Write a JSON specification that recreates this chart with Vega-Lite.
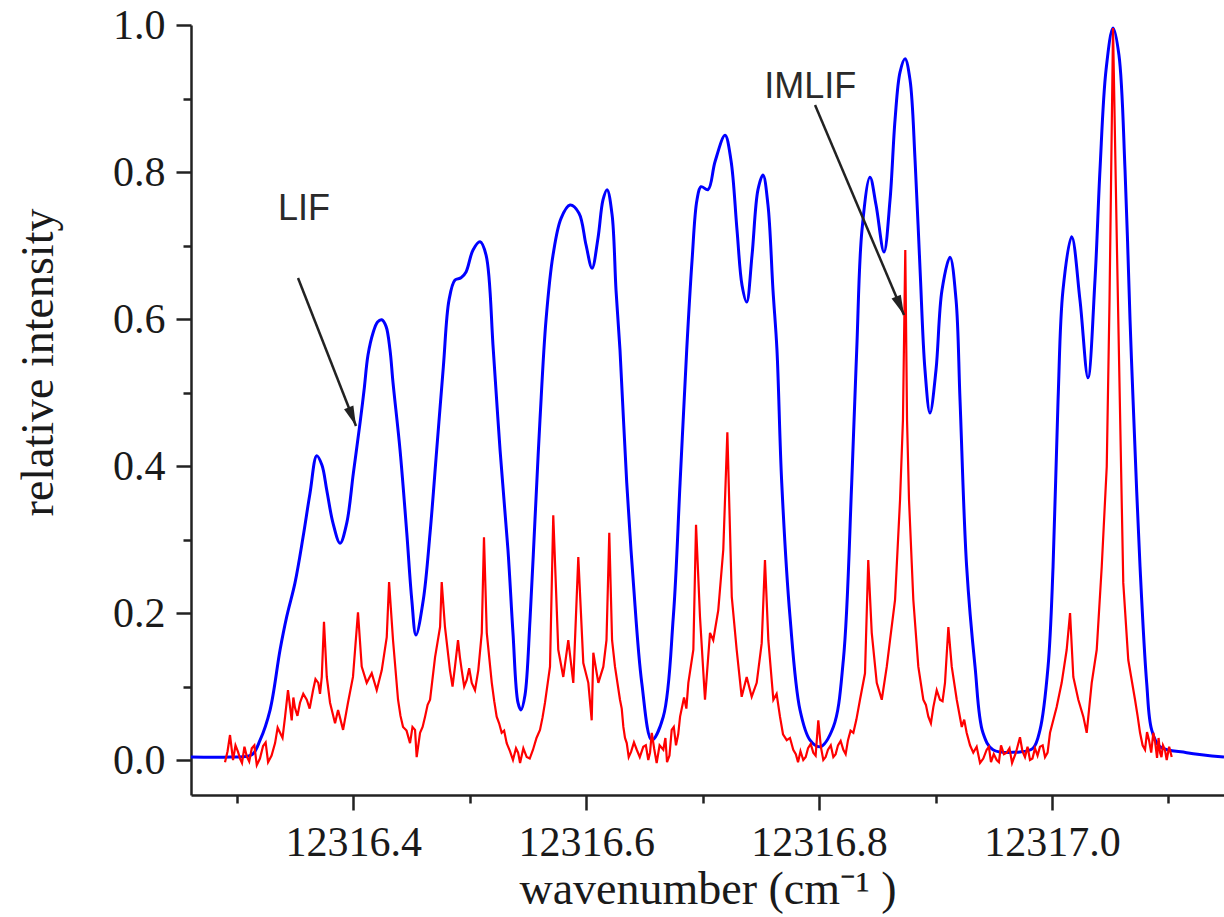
{
  "$schema": "https://vega.github.io/schema/vega-lite/v6.json",
  "width": 1033,
  "height": 770,
  "autosize": {"type": "none"},
  "padding": {"left": 191, "top": 25, "right": 0, "bottom": 122},
  "background": "white",
  "config": {"view": {"stroke": null}},
  "datasets": {
    "lif": [
      {"x": 12316.2606, "y": 0.004}, {"x": 12316.2941, "y": 0.004}, {"x": 12316.3128, "y": 0.007}, {"x": 12316.3199, "y": 0.027},
      {"x": 12316.3285, "y": 0.068}, {"x": 12316.3371, "y": 0.150}, {"x": 12316.3428, "y": 0.195}, {"x": 12316.3499, "y": 0.241},
      {"x": 12316.3568, "y": 0.303}, {"x": 12316.3628, "y": 0.363}, {"x": 12316.3686, "y": 0.414}, {"x": 12316.3731, "y": 0.401},
      {"x": 12316.3772, "y": 0.367}, {"x": 12316.3826, "y": 0.322}, {"x": 12316.3886, "y": 0.295}, {"x": 12316.3943, "y": 0.322},
      {"x": 12316.4000, "y": 0.390}, {"x": 12316.4058, "y": 0.459}, {"x": 12316.4092, "y": 0.503}, {"x": 12316.4126, "y": 0.551},
      {"x": 12316.4169, "y": 0.581}, {"x": 12316.4208, "y": 0.596}, {"x": 12316.4244, "y": 0.599}, {"x": 12316.4281, "y": 0.590},
      {"x": 12316.4315, "y": 0.558}, {"x": 12316.4341, "y": 0.513}, {"x": 12316.4401, "y": 0.422},
      {"x": 12316.4459, "y": 0.309}, {"x": 12316.4502, "y": 0.218}, {"x": 12316.4538, "y": 0.170}, {"x": 12316.4601, "y": 0.218},
      {"x": 12316.4659, "y": 0.309}, {"x": 12316.4716, "y": 0.422}, {"x": 12316.4773, "y": 0.535}, {"x": 12316.4822, "y": 0.626},
      {"x": 12316.4873, "y": 0.653}, {"x": 12316.4925, "y": 0.656}, {"x": 12316.4968, "y": 0.664}, {"x": 12316.5028, "y": 0.694},
      {"x": 12316.5088, "y": 0.705}, {"x": 12316.5140, "y": 0.687}, {"x": 12316.5202, "y": 0.558}, {"x": 12316.5260, "y": 0.422},
      {"x": 12316.5328, "y": 0.286}, {"x": 12316.5371, "y": 0.173}, {"x": 12316.5414, "y": 0.078}, {"x": 12316.5440, "y": 0.068},
      {"x": 12316.5474, "y": 0.088}, {"x": 12316.5517, "y": 0.190}, {"x": 12316.5560, "y": 0.327}, {"x": 12316.5603, "y": 0.463},
      {"x": 12316.5655, "y": 0.599}, {"x": 12316.5715, "y": 0.687}, {"x": 12316.5784, "y": 0.737}, {"x": 12316.5861, "y": 0.755},
      {"x": 12316.5938, "y": 0.744}, {"x": 12316.5998, "y": 0.701}, {"x": 12316.6050, "y": 0.669}, {"x": 12316.6101, "y": 0.710},
      {"x": 12316.6144, "y": 0.762}, {"x": 12316.6179, "y": 0.776}, {"x": 12316.6222, "y": 0.742}, {"x": 12316.6256, "y": 0.639},
      {"x": 12316.6290, "y": 0.558}, {"x": 12316.6348, "y": 0.377}, {"x": 12316.6405, "y": 0.241}, {"x": 12316.6477, "y": 0.105},
      {"x": 12316.6563, "y": 0.027}, {"x": 12316.6662, "y": 0.059}, {"x": 12316.6748, "y": 0.195}, {"x": 12316.6806, "y": 0.377},
      {"x": 12316.6863, "y": 0.558}, {"x": 12316.6909, "y": 0.680}, {"x": 12316.6951, "y": 0.762}, {"x": 12316.6986, "y": 0.780},
      {"x": 12316.7046, "y": 0.776}, {"x": 12316.7106, "y": 0.814}, {"x": 12316.7192, "y": 0.850}, {"x": 12316.7243, "y": 0.816},
      {"x": 12316.7295, "y": 0.721}, {"x": 12316.7338, "y": 0.646}, {"x": 12316.7378, "y": 0.623}, {"x": 12316.7424, "y": 0.687},
      {"x": 12316.7475, "y": 0.776}, {"x": 12316.7518, "y": 0.796}, {"x": 12316.7561, "y": 0.755}, {"x": 12316.7604, "y": 0.639},
      {"x": 12316.7638, "y": 0.558}, {"x": 12316.7679, "y": 0.377}, {"x": 12316.7750, "y": 0.195}, {"x": 12316.7836, "y": 0.068},
      {"x": 12316.7922, "y": 0.027}, {"x": 12316.8008, "y": 0.018}, {"x": 12316.8122, "y": 0.045}, {"x": 12316.8208, "y": 0.136},
      {"x": 12316.8280, "y": 0.377}, {"x": 12316.8323, "y": 0.558}, {"x": 12316.8368, "y": 0.721}, {"x": 12316.8437, "y": 0.793},
      {"x": 12316.8489, "y": 0.755}, {"x": 12316.8557, "y": 0.691}, {"x": 12316.8609, "y": 0.762}, {"x": 12316.8652, "y": 0.871},
      {"x": 12316.8695, "y": 0.936}, {"x": 12316.8738, "y": 0.954}, {"x": 12316.8781, "y": 0.925}, {"x": 12316.8824, "y": 0.816},
      {"x": 12316.8867, "y": 0.667}, {"x": 12316.8909, "y": 0.531}, {"x": 12316.8952, "y": 0.472}, {"x": 12316.9004, "y": 0.531},
      {"x": 12316.9055, "y": 0.639}, {"x": 12316.9124, "y": 0.684}, {"x": 12316.9176, "y": 0.626}, {"x": 12316.9210, "y": 0.490},
      {"x": 12316.9267, "y": 0.263}, {"x": 12316.9339, "y": 0.127}, {"x": 12316.9407, "y": 0.037}, {"x": 12316.9493, "y": 0.014},
      {"x": 12316.9725, "y": 0.011}, {"x": 12316.9837, "y": 0.016}, {"x": 12316.9897, "y": 0.041}, {"x": 12316.9966, "y": 0.127},
      {"x": 12317.0009, "y": 0.263}, {"x": 12317.0052, "y": 0.490}, {"x": 12317.0094, "y": 0.639}, {"x": 12317.0169, "y": 0.712},
      {"x": 12317.0240, "y": 0.626}, {"x": 12317.0309, "y": 0.520}, {"x": 12317.0369, "y": 0.653}, {"x": 12317.0412, "y": 0.803},
      {"x": 12317.0464, "y": 0.939}, {"x": 12317.0524, "y": 0.996}, {"x": 12317.0575, "y": 0.959}, {"x": 12317.0627, "y": 0.803},
      {"x": 12317.0670, "y": 0.599}, {"x": 12317.0696, "y": 0.490}, {"x": 12317.0756, "y": 0.263}, {"x": 12317.0813, "y": 0.105},
      {"x": 12317.0856, "y": 0.041}, {"x": 12317.0928, "y": 0.018}, {"x": 12317.1157, "y": 0.010}, {"x": 12317.1477, "y": 0.004}
    ],
    "imlif": [
      {"x": 12316.2898, "y": -0.003}, {"x": 12316.2941, "y": 0.034}, {"x": 12316.2967, "y": 0.000}, {"x": 12316.3010, "y": 0.011},
      {"x": 12316.3044, "y": -0.004}, {"x": 12316.3085, "y": 0.005}, {"x": 12316.3128, "y": 0.016}, {"x": 12316.3171, "y": -0.007},
      {"x": 12316.3225, "y": 0.019}, {"x": 12316.3268, "y": -0.003}, {"x": 12316.3328, "y": 0.023}, {"x": 12316.3371, "y": 0.037},
      {"x": 12316.3414, "y": 0.059}, {"x": 12316.3439, "y": 0.095}, {"x": 12316.3471, "y": 0.054}, {"x": 12316.3499, "y": 0.071},
      {"x": 12316.3542, "y": 0.078}, {"x": 12316.3600, "y": 0.082}, {"x": 12316.3654, "y": 0.095}, {"x": 12316.3699, "y": 0.105},
      {"x": 12316.3729, "y": 0.113}, {"x": 12316.3748, "y": 0.188}, {"x": 12316.3772, "y": 0.113}, {"x": 12316.3800, "y": 0.078},
      {"x": 12316.3843, "y": 0.050}, {"x": 12316.3869, "y": 0.068}, {"x": 12316.3912, "y": 0.041}, {"x": 12316.3954, "y": 0.078},
      {"x": 12316.3997, "y": 0.113}, {"x": 12316.4040, "y": 0.201}, {"x": 12316.4072, "y": 0.127}, {"x": 12316.4115, "y": 0.105},
      {"x": 12316.4158, "y": 0.118}, {"x": 12316.4201, "y": 0.095}, {"x": 12316.4244, "y": 0.122}, {"x": 12316.4287, "y": 0.167},
      {"x": 12316.4307, "y": 0.242}, {"x": 12316.4341, "y": 0.163}, {"x": 12316.4384, "y": 0.082}, {"x": 12316.4427, "y": 0.045},
      {"x": 12316.4487, "y": 0.023}, {"x": 12316.4530, "y": 0.041}, {"x": 12316.4544, "y": 0.004}, {"x": 12316.4573, "y": 0.037},
      {"x": 12316.4616, "y": 0.059}, {"x": 12316.4659, "y": 0.082}, {"x": 12316.4702, "y": 0.140}, {"x": 12316.4745, "y": 0.181},
      {"x": 12316.4759, "y": 0.242}, {"x": 12316.4787, "y": 0.181}, {"x": 12316.4830, "y": 0.122}, {"x": 12316.4873, "y": 0.127},
      {"x": 12316.4899, "y": 0.163}, {"x": 12316.4931, "y": 0.122}, {"x": 12316.4974, "y": 0.109}, {"x": 12316.5017, "y": 0.105},
      {"x": 12316.5073, "y": 0.122}, {"x": 12316.5103, "y": 0.173}, {"x": 12316.5122, "y": 0.303}, {"x": 12316.5146, "y": 0.173},
      {"x": 12316.5189, "y": 0.105}, {"x": 12316.5231, "y": 0.059}, {"x": 12316.5274, "y": 0.037}, {"x": 12316.5317, "y": 0.023},
      {"x": 12316.5371, "y": 0.000}, {"x": 12316.5397, "y": 0.016}, {"x": 12316.5432, "y": -0.004}, {"x": 12316.5489, "y": 0.004},
      {"x": 12316.5543, "y": 0.014}, {"x": 12316.5603, "y": 0.041}, {"x": 12316.5646, "y": 0.078}, {"x": 12316.5689, "y": 0.127},
      {"x": 12316.5717, "y": 0.333}, {"x": 12316.5760, "y": 0.150}, {"x": 12316.5803, "y": 0.113}, {"x": 12316.5846, "y": 0.163},
      {"x": 12316.5889, "y": 0.105}, {"x": 12316.5932, "y": 0.276}, {"x": 12316.5975, "y": 0.132}, {"x": 12316.6018, "y": 0.105},
      {"x": 12316.6047, "y": 0.054}, {"x": 12316.6061, "y": 0.146}, {"x": 12316.6104, "y": 0.105}, {"x": 12316.6147, "y": 0.127},
      {"x": 12316.6174, "y": 0.163}, {"x": 12316.6198, "y": 0.309}, {"x": 12316.6222, "y": 0.163}, {"x": 12316.6247, "y": 0.127},
      {"x": 12316.6290, "y": 0.082}, {"x": 12316.6319, "y": 0.045}, {"x": 12316.6348, "y": 0.023}, {"x": 12316.6385, "y": 0.011},
      {"x": 12316.6434, "y": 0.014}, {"x": 12316.6490, "y": 0.018}, {"x": 12316.6533, "y": 0.000}, {"x": 12316.6563, "y": 0.037},
      {"x": 12316.6605, "y": -0.004}, {"x": 12316.6662, "y": 0.014}, {"x": 12316.6694, "y": -0.003}, {"x": 12316.6734, "y": 0.041},
      {"x": 12316.6771, "y": 0.020}, {"x": 12316.6806, "y": 0.059}, {"x": 12316.6877, "y": 0.105}, {"x": 12316.6920, "y": 0.150},
      {"x": 12316.6943, "y": 0.320}, {"x": 12316.6977, "y": 0.195}, {"x": 12316.7020, "y": 0.082}, {"x": 12316.7063, "y": 0.173},
      {"x": 12316.7091, "y": 0.163}, {"x": 12316.7134, "y": 0.204}, {"x": 12316.7177, "y": 0.286}, {"x": 12316.7212, "y": 0.446},
      {"x": 12316.7250, "y": 0.222}, {"x": 12316.7292, "y": 0.150}, {"x": 12316.7335, "y": 0.086}, {"x": 12316.7378, "y": 0.113},
      {"x": 12316.7421, "y": 0.086}, {"x": 12316.7464, "y": 0.105}, {"x": 12316.7507, "y": 0.159}, {"x": 12316.7535, "y": 0.272},
      {"x": 12316.7564, "y": 0.163}, {"x": 12316.7607, "y": 0.082}, {"x": 12316.7664, "y": 0.059}, {"x": 12316.7722, "y": 0.027},
      {"x": 12316.7778, "y": 0.014}, {"x": 12316.7819, "y": -0.003}, {"x": 12316.7864, "y": 0.000}, {"x": 12316.7905, "y": 0.016},
      {"x": 12316.7950, "y": 0.010}, {"x": 12316.7993, "y": 0.054}, {"x": 12316.8036, "y": 0.000}, {"x": 12316.8076, "y": 0.014},
      {"x": 12316.8122, "y": 0.004}, {"x": 12316.8162, "y": 0.020}, {"x": 12316.8208, "y": 0.014}, {"x": 12316.8248, "y": 0.027},
      {"x": 12316.8294, "y": 0.037}, {"x": 12316.8351, "y": 0.082}, {"x": 12316.8394, "y": 0.118}, {"x": 12316.8422, "y": 0.272},
      {"x": 12316.8452, "y": 0.173}, {"x": 12316.8495, "y": 0.105}, {"x": 12316.8538, "y": 0.082}, {"x": 12316.8581, "y": 0.127},
      {"x": 12316.8609, "y": 0.163}, {"x": 12316.8652, "y": 0.218}, {"x": 12316.8695, "y": 0.354}, {"x": 12316.8720, "y": 0.463},
      {"x": 12316.8740, "y": 0.694}, {"x": 12316.8755, "y": 0.463}, {"x": 12316.8772, "y": 0.354}, {"x": 12316.8809, "y": 0.218},
      {"x": 12316.8852, "y": 0.127}, {"x": 12316.8895, "y": 0.082}, {"x": 12316.8938, "y": 0.059}, {"x": 12316.8981, "y": 0.072},
      {"x": 12316.9038, "y": 0.082}, {"x": 12316.9081, "y": 0.105}, {"x": 12316.9110, "y": 0.181}, {"x": 12316.9139, "y": 0.127},
      {"x": 12316.9182, "y": 0.082}, {"x": 12316.9225, "y": 0.045}, {"x": 12316.9267, "y": 0.037}, {"x": 12316.9324, "y": 0.010},
      {"x": 12316.9382, "y": -0.004}, {"x": 12316.9439, "y": 0.014}, {"x": 12316.9476, "y": -0.003}, {"x": 12316.9525, "y": 0.000},
      {"x": 12316.9562, "y": 0.020}, {"x": 12316.9611, "y": 0.010}, {"x": 12316.9657, "y": -0.004}, {"x": 12316.9725, "y": 0.031},
      {"x": 12316.9768, "y": 0.004}, {"x": 12316.9811, "y": 0.000}, {"x": 12316.9854, "y": 0.016}, {"x": 12316.9897, "y": 0.018},
      {"x": 12316.9940, "y": 0.004}, {"x": 12316.9983, "y": 0.037}, {"x": 12317.0040, "y": 0.072}, {"x": 12317.0083, "y": 0.105},
      {"x": 12317.0126, "y": 0.150}, {"x": 12317.0155, "y": 0.200}, {"x": 12317.0183, "y": 0.113}, {"x": 12317.0226, "y": 0.082},
      {"x": 12317.0269, "y": 0.059}, {"x": 12317.0298, "y": 0.037}, {"x": 12317.0341, "y": 0.105}, {"x": 12317.0384, "y": 0.150},
      {"x": 12317.0427, "y": 0.263}, {"x": 12317.0470, "y": 0.399}, {"x": 12317.0494, "y": 0.626}, {"x": 12317.0524, "y": 0.996},
      {"x": 12317.0558, "y": 0.694}, {"x": 12317.0593, "y": 0.399}, {"x": 12317.0612, "y": 0.241}, {"x": 12317.0655, "y": 0.136},
      {"x": 12317.0713, "y": 0.082}, {"x": 12317.0756, "y": 0.037}, {"x": 12317.0799, "y": 0.014}, {"x": 12317.0833, "y": 0.027},
      {"x": 12317.0870, "y": 0.037}, {"x": 12317.0902, "y": 0.003}, {"x": 12317.0928, "y": 0.010}, {"x": 12317.0953, "y": 0.020},
      {"x": 12317.0985, "y": 0.000}, {"x": 12317.1028, "y": 0.004},
      {"x": 12316.2920, "y": 0.012}, {"x": 12316.2988, "y": 0.020}, {"x": 12316.3027, "y": 0.002}, {"x": 12316.3065, "y": 0.018},
      {"x": 12316.3106, "y": -0.002}, {"x": 12316.3150, "y": 0.020}, {"x": 12316.3198, "y": 0.002}, {"x": 12316.3247, "y": 0.024},
      {"x": 12316.3298, "y": 0.006}, {"x": 12316.3350, "y": 0.044}, {"x": 12316.3392, "y": 0.030},
      {"x": 12316.3485, "y": 0.085}, {"x": 12316.3520, "y": 0.060}, {"x": 12316.3570, "y": 0.090}, {"x": 12316.3625, "y": 0.070},
      {"x": 12316.3675, "y": 0.110}, {"x": 12316.3714, "y": 0.090},
      {"x": 12316.4405, "y": 0.060}, {"x": 12316.4457, "y": 0.040}, {"x": 12316.4508, "y": 0.045}, {"x": 12316.4595, "y": 0.045},
      {"x": 12316.4638, "y": 0.075},
      {"x": 12316.4852, "y": 0.100}, {"x": 12316.4915, "y": 0.140}, {"x": 12316.4952, "y": 0.100}, {"x": 12316.4995, "y": 0.125},
      {"x": 12316.5045, "y": 0.095},
      {"x": 12316.5210, "y": 0.080}, {"x": 12316.5252, "y": 0.050}, {"x": 12316.5295, "y": 0.040}, {"x": 12316.5345, "y": 0.012},
      {"x": 12316.5415, "y": 0.010}, {"x": 12316.5460, "y": 0.016}, {"x": 12316.5515, "y": 0.002}, {"x": 12316.5573, "y": 0.030},
      {"x": 12316.5625, "y": 0.058},
      {"x": 12316.6305, "y": 0.070}, {"x": 12316.6333, "y": 0.030}, {"x": 12316.6365, "y": 0.004}, {"x": 12316.6410, "y": 0.024},
      {"x": 12316.6460, "y": 0.004}, {"x": 12316.6512, "y": 0.020}, {"x": 12316.6548, "y": 0.010}, {"x": 12316.6584, "y": 0.015},
      {"x": 12316.6630, "y": 0.020}, {"x": 12316.6680, "y": 0.030}, {"x": 12316.6715, "y": 0.006}, {"x": 12316.6752, "y": 0.045},
      {"x": 12316.6790, "y": 0.035}, {"x": 12316.6840, "y": 0.085}, {"x": 12316.6860, "y": 0.070},
      {"x": 12316.7635, "y": 0.090}, {"x": 12316.7690, "y": 0.035}, {"x": 12316.7750, "y": 0.030}, {"x": 12316.7800, "y": 0.008},
      {"x": 12316.7840, "y": 0.012}, {"x": 12316.7885, "y": 0.004}, {"x": 12316.7928, "y": 0.022}, {"x": 12316.7970, "y": 0.006},
      {"x": 12316.8015, "y": 0.018}, {"x": 12316.8056, "y": 0.004}, {"x": 12316.8100, "y": 0.020}, {"x": 12316.8142, "y": 0.008},
      {"x": 12316.8185, "y": 0.026}, {"x": 12316.8228, "y": 0.008}, {"x": 12316.8270, "y": 0.040}, {"x": 12316.8320, "y": 0.055},
      {"x": 12316.8917, "y": 0.075}, {"x": 12316.8960, "y": 0.050}, {"x": 12316.9010, "y": 0.095}, {"x": 12316.9060, "y": 0.080},
      {"x": 12316.9246, "y": 0.055}, {"x": 12316.9296, "y": 0.020}, {"x": 12316.9353, "y": 0.018}, {"x": 12316.9410, "y": 0.002},
      {"x": 12316.9458, "y": 0.018}, {"x": 12316.9500, "y": 0.008}, {"x": 12316.9544, "y": -0.003}, {"x": 12316.9587, "y": 0.008},
      {"x": 12316.9635, "y": 0.016}, {"x": 12316.9690, "y": 0.010}, {"x": 12316.9746, "y": 0.012}, {"x": 12316.9790, "y": 0.018},
      {"x": 12316.9832, "y": 0.002}, {"x": 12316.9876, "y": 0.006}, {"x": 12316.9920, "y": 0.020}, {"x": 12316.9962, "y": 0.010},
      {"x": 12317.0735, "y": 0.060}, {"x": 12317.0778, "y": 0.020}, {"x": 12317.0816, "y": 0.038}, {"x": 12317.0852, "y": 0.010},
      {"x": 12317.0886, "y": 0.024}, {"x": 12317.0915, "y": 0.030}, {"x": 12317.0940, "y": 0.004}, {"x": 12317.0970, "y": 0.014},
      {"x": 12317.1006, "y": 0.018}
    ],
    "labels": [
      {"label": "LIF", "x": 12316.3576, "y": 0.7347},
      {"label": "IMLIF", "x": 12316.7924, "y": 0.9007}
    ],
    "arrows": [
      {"label": "LIF", "x": 12316.3525, "y": 0.6558, "x2": 12316.4023, "y2": 0.4544},
      {"label": "IMLIF", "x": 12316.7965, "y": 0.8912, "x2": 12316.8729, "y2": 0.6054}
    ]
  },
  "layer": [
    {
      "data": {"name": "lif"},
      "mark": {"type": "line", "color": "#0000ff", "strokeWidth": 3, "interpolate": "catmull-rom", "clip": true},
      "encoding": {
        "x": {"field": "x", "type": "quantitative", "scale": {"domain": [12316.2606, 12317.1477], "nice": false, "zero": false},
          "axis": {"orient": "bottom", "values": [12316.4, 12316.6, 12316.8, 12317.0], "format": ".1f", "grid": false,
            "domainColor": "#222222", "domainWidth": 2.5, "tickColor": "#222222", "tickWidth": 2.5, "tickSize": 15,
            "labelFont": "Liberation Serif", "labelFontSize": 42, "labelColor": "#1a1a1a", "labelPadding": 12,
            "labelFlush": false, "labelOverlap": false,
            "title": "wavenumber (cm⁻¹ )", "titleFont": "Liberation Serif", "titleFontSize": 46, "titleFontWeight": "normal",
            "titleColor": "#1a1a1a", "titleY": 108, "titleBaseline": "alphabetic"}},
        "y": {"field": "y", "type": "quantitative", "scale": {"domain": [-0.0476, 1.0], "nice": false, "zero": false},
          "axis": {"orient": "left", "values": [0, 0.2, 0.4, 0.6, 0.8, 1.0], "format": ".1f", "grid": false,
            "domainColor": "#222222", "domainWidth": 2.5, "tickColor": "#222222", "tickWidth": 2.5, "tickSize": 15,
            "labelFont": "Liberation Serif", "labelFontSize": 42, "labelColor": "#1a1a1a", "labelPadding": 11,
            "labelFlush": false, "labelOverlap": false,
            "title": "relative intensity", "titleFont": "Liberation Serif", "titleFontSize": 46, "titleFontWeight": "normal",
            "titleColor": "#1a1a1a", "titleX": -139, "titleY": 337, "titleBaseline": "alphabetic", "titleAngle": -90}}
      }
    },
    {
      "data": {"name": "imlif"},
      "mark": {"type": "line", "color": "#ff0000", "strokeWidth": 2.2, "clip": true},
      "encoding": {
        "x": {"field": "x", "type": "quantitative", "scale": {"domain": [12316.2606, 12317.1477], "nice": false, "zero": false},
          "axis": {"orient": "bottom", "values": [12316.3, 12316.5, 12316.7, 12316.9, 12317.1], "labels": false, "domain": false,
            "grid": false, "tickColor": "#222222", "tickWidth": 2.5, "tickSize": 8, "title": null}},
        "y": {"field": "y", "type": "quantitative", "scale": {"domain": [-0.0476, 1.0], "nice": false, "zero": false},
          "axis": {"orient": "left", "values": [0.1, 0.3, 0.5, 0.7, 0.9], "labels": false, "domain": false,
            "grid": false, "tickColor": "#222222", "tickWidth": 2.5, "tickSize": 8, "title": null}}
      }
    },
    {
      "data": {"name": "arrows"},
      "mark": {"type": "rule", "color": "#222222", "strokeWidth": 2.5},
      "encoding": {
        "x": {"field": "x", "type": "quantitative", "scale": {"domain": [12316.2606, 12317.1477], "nice": false, "zero": false}, "axis": null},
        "y": {"field": "y", "type": "quantitative", "scale": {"domain": [-0.0476, 1.0], "nice": false, "zero": false}, "axis": null},
        "x2": {"field": "x2"},
        "y2": {"field": "y2"}
      }
    },
    {
      "data": {"name": "arrows"},
      "transform": [{"filter": "datum.label === 'LIF'"}],
      "mark": {"type": "point", "shape": "M0,0L-0.5,-2L0.5,-2Z", "size": 400, "filled": true, "color": "#222222", "opacity": 1, "angle": 338.6},
      "encoding": {
        "x": {"field": "x2", "type": "quantitative", "scale": {"domain": [12316.2606, 12317.1477], "nice": false, "zero": false}, "axis": null},
        "y": {"field": "y2", "type": "quantitative", "scale": {"domain": [-0.0476, 1.0], "nice": false, "zero": false}, "axis": null}
      }
    },
    {
      "data": {"name": "arrows"},
      "transform": [{"filter": "datum.label === 'IMLIF'"}],
      "mark": {"type": "point", "shape": "M0,0L-0.5,-2L0.5,-2Z", "size": 400, "filled": true, "color": "#222222", "opacity": 1, "angle": 337.0},
      "encoding": {
        "x": {"field": "x2", "type": "quantitative", "scale": {"domain": [12316.2606, 12317.1477], "nice": false, "zero": false}, "axis": null},
        "y": {"field": "y2", "type": "quantitative", "scale": {"domain": [-0.0476, 1.0], "nice": false, "zero": false}, "axis": null}
      }
    },
    {
      "data": {"name": "labels"},
      "mark": {"type": "text", "font": "Liberation Sans", "fontSize": 36, "color": "#2a2a2a", "align": "center", "baseline": "alphabetic"},
      "encoding": {
        "x": {"field": "x", "type": "quantitative", "scale": {"domain": [12316.2606, 12317.1477], "nice": false, "zero": false}, "axis": null},
        "y": {"field": "y", "type": "quantitative", "scale": {"domain": [-0.0476, 1.0], "nice": false, "zero": false}, "axis": null},
        "text": {"field": "label", "type": "nominal"}
      }
    }
  ],
  "resolve": {"axis": {"x": "independent", "y": "independent"}}
}
